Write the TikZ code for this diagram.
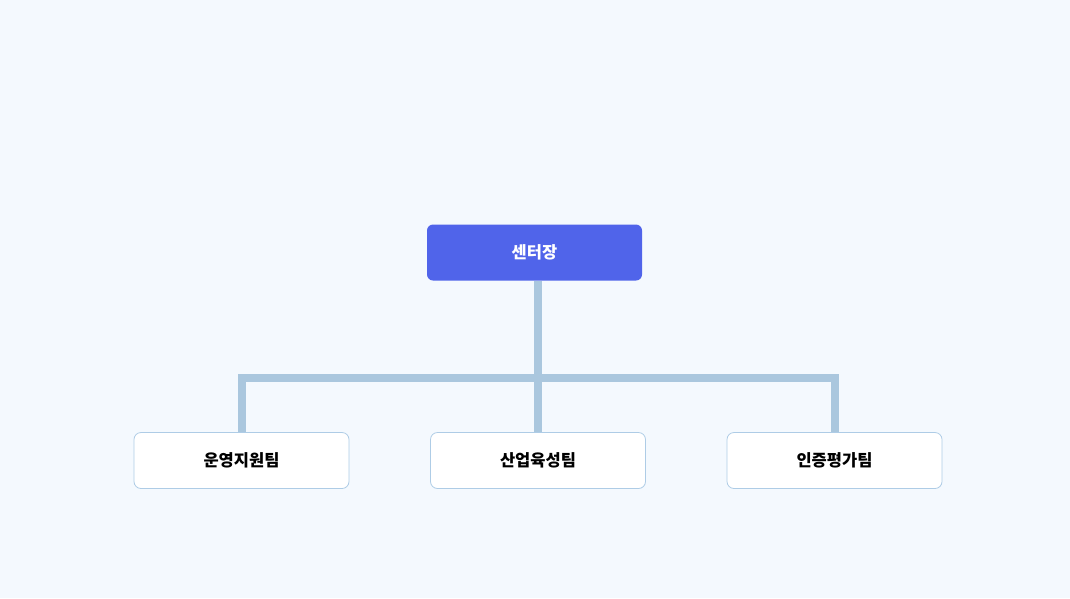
\documentclass[tikz,border=0pt]{standalone}
\usepackage{fontspec}
\newfontfamily\kr{Noto Sans CJK KR}
\definecolor{bg}{HTML}{F4F9FE}
\definecolor{topfill}{HTML}{5064EA}
\definecolor{linec}{HTML}{AAC7DE}
\definecolor{boxborder}{HTML}{AECCE6}
\pgfdeclarelayer{back}
\pgfdeclarelayer{lines}
\pgfsetlayers{back,lines,main}
\tikzset{
  headbox/.style={draw=none, fill=topfill, rounded corners=6pt, minimum width=215pt, minimum height=56pt, inner sep=0pt, text=white, font=\kr\bfseries\fontsize{16.5}{19}\selectfont},
  teambox/.style={draw=boxborder, line width=0.8pt, fill=white, rounded corners=7pt, minimum width=215pt, minimum height=56pt, inner sep=0pt, text=black, font=\kr\bfseries\fontsize{16.5}{19}\selectfont},
  conn/.style={draw=linec, line width=8pt}
}
\begin{document}
\begin{tikzpicture}[x=1pt,y=-1pt]
\begin{pgfonlayer}{back}
\fill[bg] (0,0) rectangle (1070,598);
\end{pgfonlayer}
\useasboundingbox (0,0) rectangle (1070,598);
\node[headbox] (head) at (534.5,252.5) {센터장};
\node[teambox] (t1) at (241.5,460.5) {운영지원팀};
\node[teambox] (t2) at (538,460.5) {산업육성팀};
\node[teambox] (t3) at (834.5,460.5) {인증평가팀};
\coordinate (hbar) at (538,377.5);
\begin{pgfonlayer}{lines}
\draw[conn] (head.south -| t2.north) -- (t2.north);
\draw[conn] (t1.north) |- (hbar) -| (t3.north);
\end{pgfonlayer}
\end{tikzpicture}
\end{document}
